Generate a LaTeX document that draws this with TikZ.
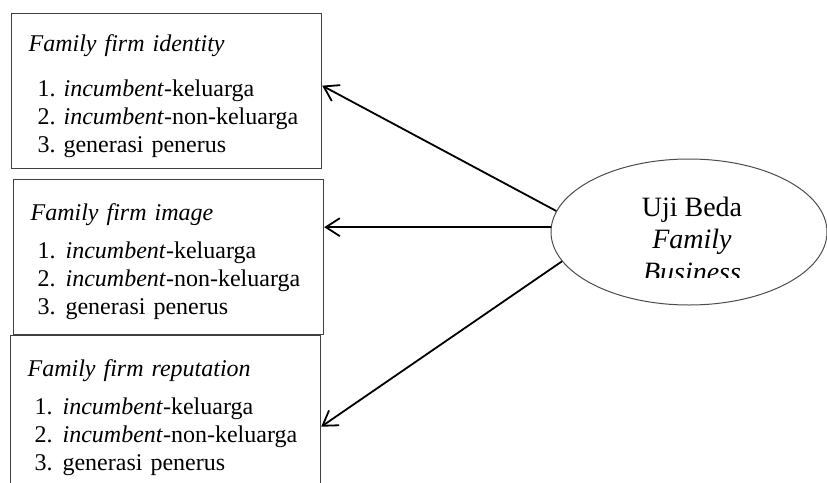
\documentclass[tikz,border=0pt]{standalone}
\usepackage{fontspec}
\setmainfont{Liberation Serif}
\usetikzlibrary{shapes.geometric}
\usetikzlibrary{arrows.meta}
\usetikzlibrary{positioning}

\begin{document}
\begin{tikzpicture}[x=0.5pt,y=-0.5pt,
	varbox/.style={draw=black!75,line width=0.6pt,rectangle,anchor=north west,
		minimum width=153.5pt,minimum height=77.5pt,align=left,
		inner xsep=8.5pt,font=\fontsize{12}{14}\selectfont},
	uji/.style={draw=black!70,line width=0.5pt,ellipse,minimum width=138pt,minimum height=73pt},
	panah/.style={-{Straight Barb[length=7pt,width=9pt]},line width=0.9pt}
	]
		\def\W{827} % lebar gambar
		\def\H{483} % tinggi gambar
		\def\gap{\hspace{5pt}}
		\def\atas{\rule{0pt}{13pt}}
		
		\useasboundingbox (0,0) rectangle (\W,\H);
		
		% tiga kotak variabel
		\node[varbox,text width=138pt] (identity) at (11,13) {\atas\textit{Family firm identity}\\[8.5pt]
			\hspace*{4.5pt}1.\ \textit{incumbent}-keluarga\\
			\hspace*{4.5pt}2.\ \textit{incumbent}-non-keluarga\\
			\hspace*{4.5pt}3.\ generasi penerus};
		\node[varbox,text width=138pt] (image) at (13,179) {\atas\textit{Family firm image}\\[5pt]
			\hspace*{3.5pt}1.\gap\textit{incumbent}-keluarga\\
			\hspace*{3.5pt}2.\gap\textit{incumbent}-non-keluarga\\
			\hspace*{3.5pt}3.\gap generasi penerus};
		\begin{scope}
			\clip (0,0) rectangle (\W,\H);
			\node[varbox,text width=138pt] (reputation) at (10,335) {\atas\textit{Family firm reputation}\\[5pt]
				\hspace*{3.5pt}1.\gap\textit{incumbent}-keluarga\\
				\hspace*{3.5pt}2.\gap\textit{incumbent}-non-keluarga\\
				\hspace*{3.5pt}3.\gap generasi penerus};
		\end{scope}
		
		% uji beda
		\node[uji] (beda) at (689,232) {};
		\begin{scope}
			\clip (560,170) rectangle (\W,277);
			\node[align=center,font=\fontsize{14}{14}\selectfont] (bedatext) at (692,239) {Uji Beda\\[2.25pt]\textit{Family}\\[2.25pt]\textit{Business}};
		\end{scope}
		
		\draw[panah] (beda.171) -- (identity.2.8);
		\draw[panah] (beda.178) -- (image.east |- beda.178);
		\draw[panah] (beda.193) -- (reputation.-5.4);
		
	\end{tikzpicture}
\end{document}
